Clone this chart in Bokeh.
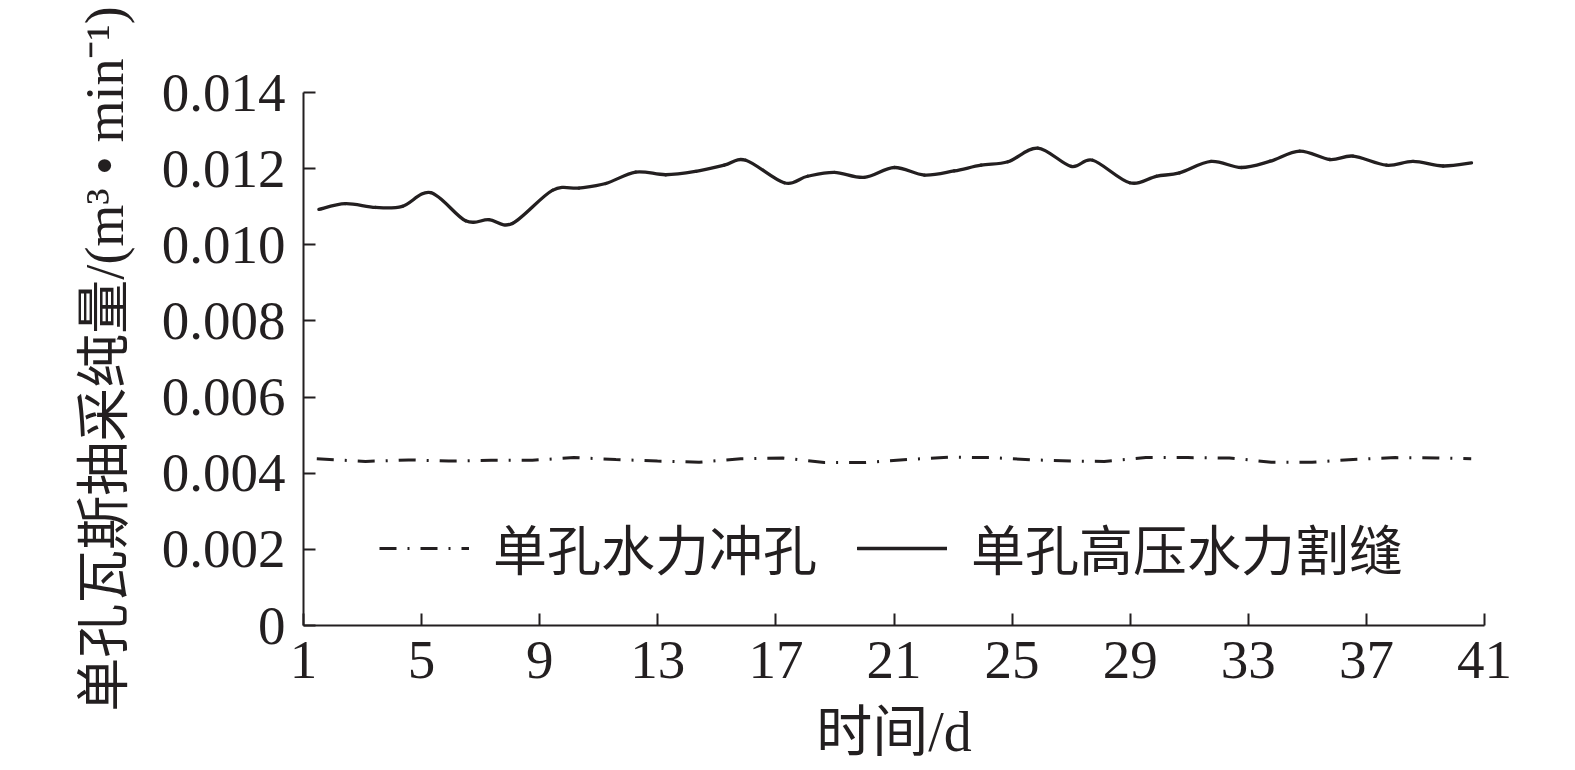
from bokeh.plotting import figure
from bokeh.models import FixedTicker, PrintfTickFormatter, Legend, LegendItem
from bokeh.embed import file_html
from bokeh.resources import INLINE

# ---- data ----
slot_days = [1.52, 2.42, 3.44, 4.35, 5.31, 6.49, 7.28, 8.07, 9.43, 10.33, 11.24, 12.25,
             13.27, 14.29, 15.25, 15.98, 17.28, 18.07, 18.98, 19.99, 21.01, 22.03,
             23.04, 23.95, 24.86, 25.87, 27.00, 27.73, 28.98, 29.88, 30.67, 31.74,
             32.76, 33.72, 34.74, 35.76, 36.55, 37.68, 38.58, 39.60, 40.56]
slot_vals = [0.01093, 0.01108, 0.01098, 0.01101, 0.01137, 0.01063, 0.01066, 0.01056,
             0.01143, 0.01149, 0.01161, 0.01191, 0.01184, 0.01193, 0.01209, 0.01222,
             0.01163, 0.01180, 0.01190, 0.01177, 0.01203, 0.01183, 0.01194, 0.01209,
             0.01218, 0.01254, 0.01206, 0.01222, 0.01163, 0.01180, 0.01189, 0.01219,
             0.01203, 0.01219, 0.01246, 0.01224, 0.01233, 0.01209, 0.01219, 0.01207,
             0.01215]

flush_days = [1.45, 3.10, 4.56, 5.92, 7.35, 8.75, 10.16, 11.58, 12.99, 14.40, 15.81,
              17.23, 18.64, 19.99, 21.46, 22.87, 24.28, 25.70, 27.11, 28.12, 29.53,
              30.95, 32.36, 33.78, 35.16, 36.55, 37.98, 39.39, 40.55]
flush_vals = [0.00438, 0.00431, 0.00435, 0.00432, 0.00434, 0.00434, 0.00441, 0.00436,
              0.00432, 0.00429, 0.00438, 0.00440, 0.00428, 0.00428, 0.00436, 0.00442,
              0.00441, 0.00435, 0.00432, 0.00431, 0.00441, 0.00441, 0.00440, 0.00429,
              0.00429, 0.00436, 0.00441, 0.00440, 0.00438]

x_ticks = [1, 5, 9, 13, 17, 21, 25, 29, 33, 37, 41]
y_ticks = [0, 0.002, 0.004, 0.006, 0.008, 0.010, 0.012, 0.014]
series_names = ["单孔水力冲孔", "单孔高压水力割缝"]
x_title = "时间/d"
y_title = "单孔瓦斯抽采纯量/(m³ • min⁻¹)"

SERIF = "'Liberation Serif', 'Noto Sans CJK SC'"
INK = "#231f20"


def smooth_segments(xs, ys):
    """Cubic (Catmull-Rom) Bezier segments through the read points."""
    n = len(xs)
    seg = {k: [] for k in ("x0", "y0", "x1", "y1", "cx0", "cy0", "cx1", "cy1")}
    for i in range(n - 1):
        xm, ym = (xs[i - 1], ys[i - 1]) if i > 0 else (xs[i], ys[i])
        xp, yp = (xs[i + 2], ys[i + 2]) if i + 2 < n else (xs[i + 1], ys[i + 1])
        seg["x0"].append(xs[i]); seg["y0"].append(ys[i])
        seg["x1"].append(xs[i + 1]); seg["y1"].append(ys[i + 1])
        seg["cx0"].append(xs[i] + (xs[i + 1] - xm) / 6)
        seg["cy0"].append(ys[i] + (ys[i + 1] - ym) / 6)
        seg["cx1"].append(xs[i + 1] - (xp - xs[i]) / 6)
        seg["cy1"].append(ys[i + 1] - (yp - ys[i]) / 6)
    return seg


p = figure(width=1560, height=768, x_range=(1, 41), y_range=(0, 0.014),
           output_backend="svg", toolbar_location=None,
           min_border_left=303, min_border_right=76, min_border_top=92,
           min_border_bottom=143)
p.outline_line_color = None
p.xgrid.visible = False
p.ygrid.visible = False
p.background_fill_color = "white"
p.border_fill_color = "white"

r_flush = p.line(flush_days, flush_vals, line_color=INK, line_width=3,
                 line_dash="17 11 2 11")
r_slot = p.bezier(source=smooth_segments(slot_days, slot_vals),
                  x0="x0", y0="y0", x1="x1", y1="y1",
                  cx0="cx0", cy0="cy0", cx1="cx1", cy1="cy1",
                  line_color=INK, line_width=3.3, line_cap="round")

for ax in (p.xaxis[0], p.yaxis[0]):
    ax.axis_line_color = INK
    ax.axis_line_width = 2
    ax.major_tick_line_color = INK
    ax.major_tick_line_width = 2
    ax.major_tick_in = 12
    ax.major_tick_out = 0
    ax.minor_tick_line_color = None
    ax.major_label_text_font = SERIF
    ax.major_label_text_font_size = "55px"
    ax.major_label_text_color = INK
    ax.axis_label_text_font = SERIF
    ax.axis_label_text_font_style = "normal"
    ax.axis_label_text_color = INK

p.xaxis[0].ticker = FixedTicker(ticks=x_ticks)
p.xaxis[0].major_label_standoff = 16
p.xaxis[0].axis_label = x_title
p.xaxis[0].axis_label_text_font_size = "56px"
p.xaxis[0].axis_label_standoff = 20

p.yaxis[0].ticker = FixedTicker(ticks=y_ticks)
p.yaxis[0].formatter = PrintfTickFormatter(format="%.3f")
p.yaxis[0].major_label_overrides = {0: "0"}
p.yaxis[0].major_label_standoff = 18
p.yaxis[0].axis_label = y_title
p.yaxis[0].axis_label_text_font_size = "54px"
p.yaxis[0].axis_label_standoff = 24

legend = Legend(items=[LegendItem(label=series_names[0], renderers=[r_flush]),
                       LegendItem(label=series_names[1], renderers=[r_slot])],
                orientation="horizontal", location=(76, 38),
                border_line_color=None, background_fill_alpha=0,
                label_text_font=SERIF, label_text_font_size="54px",
                label_text_color=INK, glyph_width=90, glyph_height=60,
                label_height=60, label_standoff=24, spacing=40,
                padding=0, margin=0)
p.add_layout(legend)

open("out.html", "w").write(file_html(p, INLINE))
